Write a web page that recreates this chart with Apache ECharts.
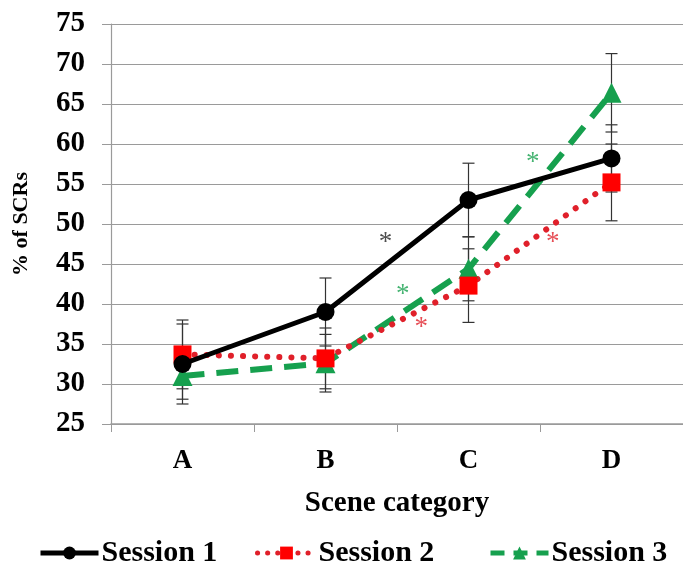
<!DOCTYPE html>
<html>
<head>
<meta charset="utf-8">
<script src="https://cdn.jsdelivr.net/npm/echarts@6/dist/echarts.min.js"></script>
<style>
  html, body { margin: 0; padding: 0; background: #fff; }
  #chart { width: 683px; height: 573px; }
</style>
</head>
<body>
<div id="chart"></div>
<script>
// Scene categories and per-session percentages of SCRs
const categories = ['A', 'B', 'C', 'D'];
const session1 = [32.5, 39.0, 53.0, 58.2];
const session2 = [33.7, 33.2, 42.3, 55.2];
const session3 = [31.0, 32.6, 44.4, 66.4];
// Error bar half-widths for each session
const session1Err = [5.0, 4.25, 4.6, 4.2];
const session2Err = [4.3, 3.8, 4.6, 4.8];
const session3Err = [2.9, 3.6, 4.0, 4.9];
// Significance asterisks: [x position in category units, y value]
const starsBlack = [[1.92, 47.6]];
const starsGreen = [[2.04, 41.1], [2.95, 57.6]];
const starsRed = [[2.17, 37.0], [3.09, 47.6]];

const BLACK = '#000000';
const RED = '#ff0000';
const RED_LINE = '#e0202a';
const GREEN = '#16a04e';
const SERIF = '"Liberation Serif", "Times New Roman", serif';

function errorSeries(values, errs) {
  const data = values.map((v, i) => [i, v - errs[i], v + errs[i]]);
  return {
    type: 'custom',
    xAxisIndex: 0,
    yAxisIndex: 0,
    z: 1,
    silent: true,
    data: data,
    renderItem: function (params, api) {
      const x = api.value(0);
      const lo = api.coord([x, api.value(1)]);
      const hi = api.coord([x, api.value(2)]);
      const cap = 6;
      const style = { stroke: '#333', lineWidth: 1.2 };
      return {
        type: 'group',
        children: [
          { type: 'line', shape: { x1: lo[0], y1: lo[1], x2: hi[0], y2: hi[1] }, style: style },
          { type: 'line', shape: { x1: lo[0] - cap, y1: lo[1], x2: lo[0] + cap, y2: lo[1] }, style: style },
          { type: 'line', shape: { x1: hi[0] - cap, y1: hi[1], x2: hi[0] + cap, y2: hi[1] }, style: style }
        ]
      };
    }
  };
}

function starSeries(points, color) {
  return {
    type: 'scatter',
    xAxisIndex: 1,
    yAxisIndex: 0,
    symbolSize: 0,
    silent: true,
    z: 5,
    data: points,
    label: {
      show: true,
      position: 'inside',
      formatter: '*',
      color: color,
      fontSize: 27,
      fontFamily: SERIF
    }
  };
}

function legendFor(name, left, lineStyle) {
  return {
    left: left,
    top: 538,
    itemWidth: 58,
    itemHeight: 16,
    padding: 0,
    lineStyle: lineStyle,
    textStyle: { fontFamily: SERIF, fontWeight: 'bold', fontSize: 30, color: '#000', padding: [0, 0, 0, -2] },
    data: [name]
  };
}

const chart = echarts.init(document.getElementById('chart'));
chart.setOption({
  animation: false,
  backgroundColor: '#ffffff',
  grid: { left: 111, top: 24, width: 575, height: 400, containLabel: false },
  legend: [
    legendFor('Session 1', 38, { width: 5 }),
    legendFor('Session 2', 255, { width: 5, type: [0.1, 10], cap: 'round' }),
    legendFor('Session 3', 488, { width: 5, type: [14, 9] })
  ],
  xAxis: [
    {
      type: 'category',
      data: categories,
      boundaryGap: true,
      axisLine: { lineStyle: { color: '#9a9a9a', width: 1.5 } },
      axisTick: { show: true, length: 8, lineStyle: { color: '#9a9a9a' } },
      axisLabel: { margin: 24, fontFamily: SERIF, fontWeight: 'bold', fontSize: 27, color: '#000' },
      name: 'Scene category',
      nameLocation: 'middle',
      nameGap: 65,
      nameTextStyle: { fontFamily: SERIF, fontWeight: 'bold', fontSize: 29, color: '#000' }
    },
    {
      type: 'value',
      min: 0,
      max: 4,
      show: false
    }
  ],
  yAxis: {
    type: 'value',
    min: 25,
    max: 75,
    interval: 5,
    axisLine: { show: true, lineStyle: { color: '#9a9a9a', width: 1.2 } },
    axisTick: { show: true, length: 9, lineStyle: { color: '#9a9a9a' } },
    splitLine: { lineStyle: { color: '#9a9a9a', width: 1.2 } },
    axisLabel: { margin: 26, fontFamily: SERIF, fontWeight: 'bold', fontSize: 29, color: '#000' },
    name: '% of SCRs',
    nameLocation: 'middle',
    nameRotate: 90,
    nameGap: 79,
    nameTextStyle: { fontFamily: SERIF, fontWeight: 'bold', fontSize: 22, color: '#000' }
  },
  series: [
    errorSeries(session1, session1Err),
    errorSeries(session2, session2Err),
    errorSeries(session3, session3Err),
    {
      name: 'Session 3',
      type: 'line',
      data: session3,
      z: 3,
      symbol: 'triangle',
      symbolSize: 20,
      itemStyle: { color: GREEN },
      lineStyle: { color: GREEN, width: 6, type: [22, 12] }
    },
    {
      name: 'Session 2',
      type: 'line',
      data: session2,
      z: 3,
      symbol: 'rect',
      symbolSize: 18,
      itemStyle: { color: RED },
      lineStyle: { color: RED_LINE, width: 6, type: [0.1, 12], cap: 'round' }
    },
    {
      name: 'Session 1',
      type: 'line',
      data: session1,
      z: 4,
      symbol: 'circle',
      symbolSize: 18,
      itemStyle: { color: BLACK },
      lineStyle: { color: BLACK, width: 5 }
    },
    starSeries(starsBlack, '#222'),
    starSeries(starsGreen, GREEN),
    starSeries(starsRed, RED_LINE)
  ]
});
</script>
</body>
</html>
